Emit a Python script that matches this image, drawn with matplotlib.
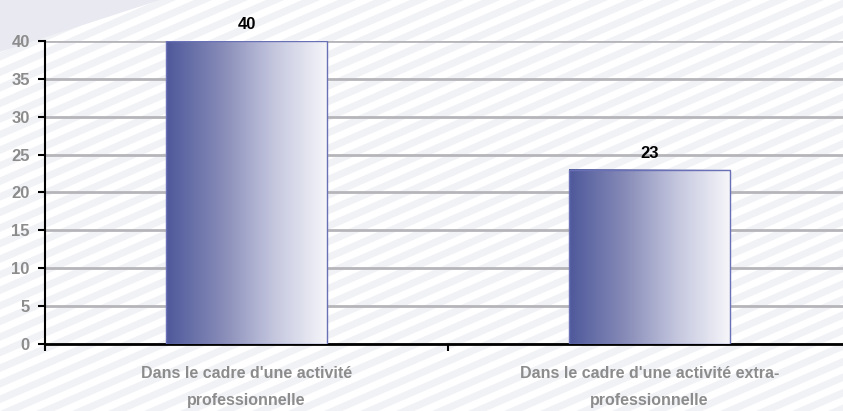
import matplotlib
matplotlib.use("Agg")
import matplotlib.pyplot as plt
import numpy as np
from matplotlib.patches import Polygon

categories = ["Dans le cadre d'une activité\nprofessionnelle",
              "Dans le cadre d'une activité extra-\nprofessionnelle"]
values = [40, 23]
yticks = [0, 5, 10, 15, 20, 25, 30, 35, 40]

plt.rcParams['font.family'] = ['Liberation Sans', 'DejaVu Sans']

fig = plt.figure(figsize=(8.43, 4.11), dpi=100)
fig.patch.set_facecolor("white")

# fond rayé en diagonale (très pâle)
W, H = 843, 411
for k in range(-40, 40):
    x0 = k * 36
    pts = [(x0, 0), (x0 + 18, 0), (x0 + 18 + 950, 411), (x0 + 950, 411)]
    pts = [(px / W, py / H) for px, py in pts]
    fig.patches.append(Polygon(pts, closed=True, transform=fig.transFigure,
                               facecolor="#f1f2f6", edgecolor="none", zorder=-5))
fig.patches.append(Polygon([(0, 1), (0, 1 - 52 / H), (160 / W, 1)], closed=True,
                           transform=fig.transFigure, facecolor="#e9e9f1",
                           edgecolor="none", zorder=-4))

ax = fig.add_axes([45 / W, 1 - 344 / H, (851 - 45) / W, (344 - 41) / H])
ax.set_facecolor("none")

xs = np.arange(len(values))
largeur = 0.4
grad = np.linspace(0, 1, 256).reshape(1, -1)
cmap = matplotlib.colors.LinearSegmentedColormap.from_list("barre", ["#4e599b", "#8489b6", "#c4c6de", "#f6f6fa"])
for x, v in zip(xs, values):
    ax.imshow(grad, cmap=cmap, aspect="auto", extent=(x - largeur / 2, x + largeur / 2, 0, v), zorder=3)
    ax.bar(x, v, width=largeur, facecolor="none", edgecolor="#6a70b5", linewidth=1, zorder=4)
    ax.text(x, v + 1.6, str(v), ha="center", va="baseline", fontsize=12, fontweight="bold", color="black")

ax.set_xlim(-0.5, 1.5)
ax.set_ylim(0, 40)
ax.set_yticks(yticks)
ax.set_yticklabels([str(t) for t in yticks], fontsize=12, fontweight="bold", color="#8c8c8c")
ax.yaxis.grid(True, color="#b6b6ba", linewidth=2, zorder=1)
ax.set_axisbelow(True)

ax.set_xticks([-0.5, 0.5, 1.5])
ax.set_xticklabels([])
ax.tick_params(axis="x", length=5, width=1.5, direction="out", color="black")
ax.tick_params(axis="y", length=5, width=1.5, direction="out", color="black", pad=6)
for x, lab in zip(xs, categories):
    ax.text(x, -2.9, lab, ha="center", va="top", fontsize=11.5, fontweight="bold",
            color="#8c8c8c", linespacing=2.0)

for s in ["top", "right"]:
    ax.spines[s].set_visible(False)
ax.spines["left"].set_linewidth(1.5)
ax.spines["bottom"].set_linewidth(2)

fig.savefig("out.png", dpi=100)
